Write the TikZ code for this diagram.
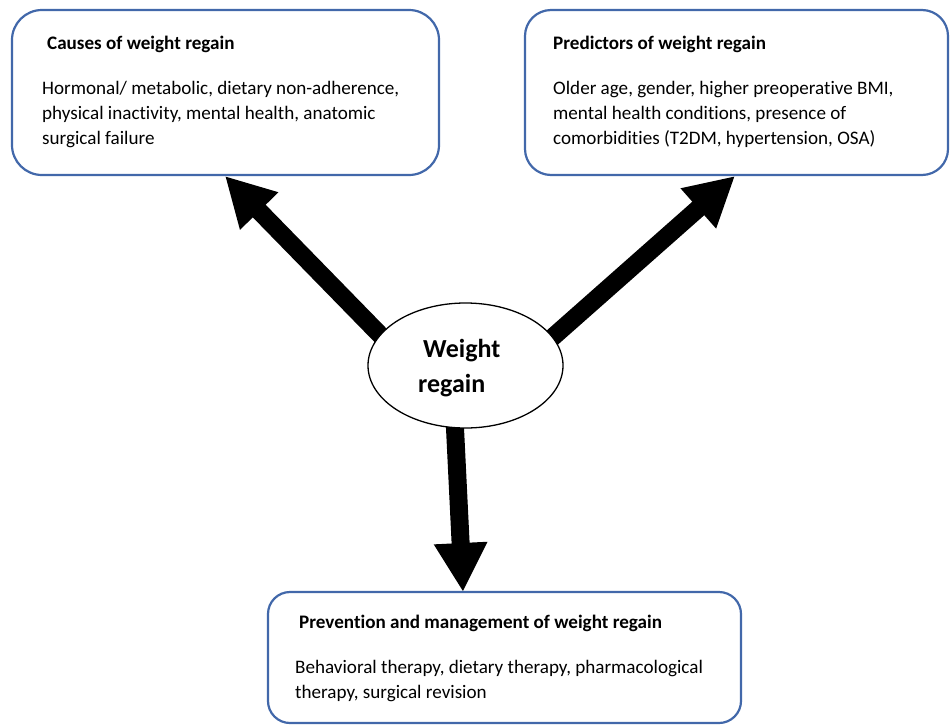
\documentclass[tikz,border=0pt]{standalone}
\usepackage{fontspec}
\setmainfont{Carlito}[RawFeature={-liga}]
\usetikzlibrary{arrows.meta,shapes.geometric,backgrounds}
\definecolor{boxblue}{RGB}{66,104,170}
\tikzset{
  infobox/.style={draw=boxblue, line width=2.2pt, rounded corners=#1, fill=white, inner sep=0pt},
  bodytxt/.style={anchor=base west, inner sep=0pt, font=\fontsize{19.1}{25}\selectfont},
  titletxt/.style={anchor=base west, inner sep=0pt, font=\fontsize{19.1}{25}\selectfont\bfseries},
  centertxt/.style={anchor=base west, inner sep=0pt, font=\fontsize{26}{35}\selectfont\bfseries},
  bigarrow/.style={line width=18pt, -{Triangle[length=49pt,width=50pt]}}
}
\begin{document}
\begin{tikzpicture}[x=1pt,y=-1pt]
\useasboundingbox (0,0) rectangle (950,726);

% boxes
\node[infobox=30pt, minimum width=427pt, minimum height=165pt] (b1) at (225.5,92.5) {};
\node[infobox=26pt, minimum width=423pt, minimum height=165pt] (b2) at (736.5,92.5) {};
\node[infobox=22pt, minimum width=473pt, minimum height=131pt] (b3) at (504.5,657.5) {};

% box 1 text
\node[titletxt] (t1) at (47,49) {Causes of weight regain};
\node[bodytxt] (l11) at (42,94) {Hormonal/ metabolic, dietary non-adherence,};
\node[bodytxt] (l12) at (42,119) {physical inactivity, mental health, anatomic};
\node[bodytxt] (l13) at (42,144) {surgical failure};

% box 2 text
\node[titletxt] (t2) at (553,49) {Predictors of weight regain};
\node[bodytxt] (l21) at (553,94) {Older age, gender, higher preoperative BMI,};
\node[bodytxt] (l22) at (553,119) {mental health conditions, presence of};
\node[bodytxt] (l23) at (553,144) {comorbidities (T2DM, hypertension, OSA)};

% box 3 text
\node[titletxt] (t3) at (299,628) {Prevention and management of weight regain};
\node[bodytxt] (l31) at (295,673) {Behavioral therapy, dietary therapy, pharmacological};
\node[bodytxt] (l32) at (295,698) {therapy, surgical revision};

% central ellipse
\node[ellipse, draw=black, line width=1.3pt, fill=white, minimum width=195pt, minimum height=125pt, inner sep=0pt] (wr) at (465.5,365.5) {};
\node[centertxt] (w1) at (423,357) {Weight};
\node[centertxt] (w2) at (418,392) {regain};

% arrows
\coordinate (s1) at (390,345);
\coordinate (e1) at (225,176);
\coordinate (s2) at (545,344);
\coordinate (e2) at (735,176);
\coordinate (s3) at (454.5,418);
\coordinate (e3) at (463,592);
\begin{scope}[on background layer]
\fill[white] (0,0) rectangle (950,726);
\draw[bigarrow] (s1) -- (e1);
\draw[bigarrow] (s2) -- (e2);
\draw[bigarrow] (s3) -- (e3);
\end{scope}
\end{tikzpicture}
\end{document}
